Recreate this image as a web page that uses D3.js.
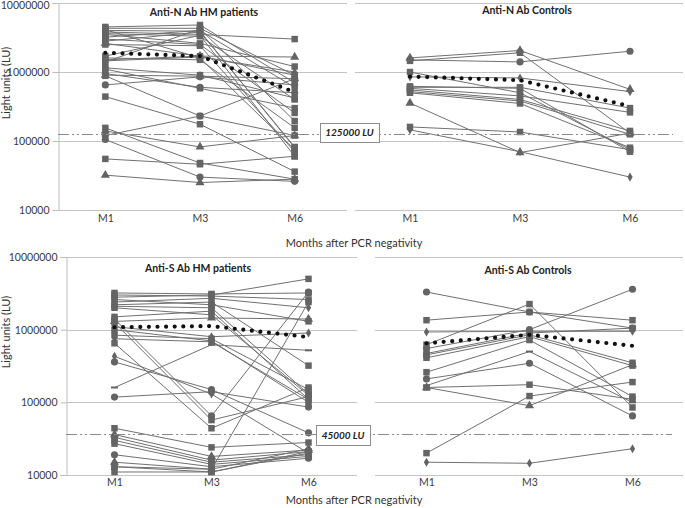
<!DOCTYPE html>
<html lang="en">
<head>
<meta charset="UTF-8">
<title>Anti-N and Anti-S antibody kinetics</title>
<script src="https://cdn.jsdelivr.net/npm/d3@7"></script>
<style>
  body { margin: 0; background: #fff; }
  svg { font-family: Lato, "Liberation Sans", sans-serif; }
  .grid line { stroke: #c4c4c4; stroke-width: 1; }
  .series { fill: none; stroke: #707070; stroke-width: 1; }
  .pt { fill: #646464; }
  .mean { fill: none; stroke: #111; stroke-width: 4.2; stroke-linecap: round; stroke-dasharray: 0 8.6; }
  .ref { stroke: #8a8a8a; stroke-width: 1; stroke-dasharray: 11 3 2 3 2 3; }
</style>
</head>
<body>
<svg id="chart" width="685" height="508"></svg>
<script>
const months = ["M1", "M3", "M6"];
const yTicks = [1e4, 1e5, 1e6, 1e7];

// Anti-N, HM patients (LU at M1, M3, M6)
const nHmSeries = [
  [4500000, 4800000, 700000], [4300000, 4300000, 900000], [4000000, 3900000, 80000],
  [3800000, 3500000, 3000000], [3500000, 2600000, 1200000], [3200000, 4000000, 600000],
  [3000000, 2500000, 255000], [2800000, 3800000, 82000], [2600000, 1700000, 1650000],
  [2500000, 2400000, 70000], [4100000, 1600000, 75000], [3600000, 3300000, 400000],
  [1700000, 3400000, 60000], [1500000, 1700000, 900000], [1400000, 4200000, 195000],
  [1600000, 1500000, 155000], [1150000, 900000, 420000], [900000, 870000, 800000],
  [950000, 600000, 500000], [880000, 230000, 120000], [650000, 850000, 650000],
  [440000, 175000, 36000], [155000, 48000, 28000], [120000, 230000, 800000],
  [105000, 30000, 26000], [55000, 46000, 60000], [32000, 25000, 28000],
  [140000, 82000, 120000], [1100000, 580000, 300000], [1450000, 1650000, 1000000]
];
const nHmMarkers = "ssssssssts" + "ssssssstcs" + "cssccsttsd";
const nHmMean = [1900000, 1700000, 510000];

// Anti-N, controls
const nCtlSeries = [
  [1600000, 2050000, 560000], [1500000, 1400000, 2000000], [1450000, 1900000, 130000],
  [1000000, 500000, 75000], [850000, 820000, 520000], [600000, 600000, 300000],
  [580000, 450000, 260000], [550000, 400000, 140000], [520000, 380000, 125000],
  [500000, 350000, 80000], [620000, 580000, 70000], [355000, 68000, 130000],
  [160000, 135000, 75000], [145000, 70000, 30000]
];
const nCtlMarkers = "tcssdsssssstsd";
const nCtlMean = [860000, 760000, 320000];

// Anti-S, HM patients
const sHmSeries = [
  [3200000, 3100000, 3200000], [3000000, 2900000, 2600000], [2800000, 3000000, 5000000],
  [2600000, 2200000, 1300000], [2400000, 2700000, 2000000], [2200000, 2400000, 320000],
  [2100000, 2000000, 130000], [1500000, 1800000, 110000], [1300000, 1450000, 1400000],
  [1400000, 65000, 3300000], [1250000, 57000, 120000], [1100000, 800000, 900000],
  [840000, 750000, 150000], [750000, 680000, 110000], [650000, 44000, 160000],
  [430000, 130000, 20000], [360000, 150000, 38000], [160000, 620000, 520000],
  [118000, 140000, 86000], [44000, 24000, 28000], [36000, 18000, 22000],
  [33000, 16000, 21000], [30000, 15000, 19000], [27000, 14000, 18000],
  [19000, 13000, 17000], [15000, 12000, 23000], [13000, 11000, 21000],
  [11000, 11000, 20000], [2000000, 1600000, 125000], [1000000, 700000, 100000],
  [13000, 12000, 2400000]
];
const sHmMarkers = "ssssdssstc" + "sdsdsdc-cs" + "tssscts" + "ssss";
const sHmMean = [1080000, 1120000, 790000];

// Anti-S, controls
const sCtlSeries = [
  [3300000, 1750000, 1050000], [1350000, 1750000, 1350000], [620000, 2250000, 85000],
  [930000, 950000, 950000], [470000, 900000, 1050000], [450000, 850000, 350000],
  [410000, 800000, 320000], [260000, 720000, 120000], [210000, 345000, 65000],
  [160000, 175000, 110000], [160000, 90000, 330000], [20000, 122000, 190000],
  [15000, 14500, 23000], [550000, 1000000, 3600000], [170000, 500000, 100000]
];
const sCtlMarkers = "cssdsssscstsdc-";
const sCtlMean = [650000, 850000, 600000];

const refN = 125000, refNLabel = "125000 LU";
const refS = 37000, refSLabel = "45000 LU";

const svg = d3.select("#chart");

const panels = [
  { series: nHmSeries, marks: nHmMarkers, mean: nHmMean, title: "Anti-N Ab HM patients",
    x0: 58, x1: 342, top: 3, bottom: 210, gridEnd: 347, axis: true, titleX: 204, titleY: 16 },
  { series: nCtlSeries, marks: nCtlMarkers, mean: nCtlMean, title: "Anti-N Ab Controls",
    x0: 355, x1: 685, top: 3, bottom: 210, gridEnd: 683, axis: false, titleX: 527, titleY: 14 },
  { series: sHmSeries, marks: sHmMarkers, mean: sHmMean, title: "Anti-S Ab HM patients",
    x0: 66, x1: 357, top: 257, bottom: 475, gridEnd: 357, axis: true, titleX: 198, titleY: 272 },
  { series: sCtlSeries, marks: sCtlMarkers, mean: sCtlMean, title: "Anti-S Ab Controls",
    x0: 375, x1: 684, top: 257, bottom: 475, gridEnd: 683, axis: false, titleX: 528, titleY: 274 }
];

const symbolOf = {
  s: d3.symbol().type(d3.symbolSquare).size(42),
  c: d3.symbol().type(d3.symbolCircle).size(40),
  t: d3.symbol().type(d3.symbolTriangle).size(36),
  d: d3.symbol().type(d3.symbolDiamond).size(24)
};

panels.forEach(p => {
  const x = d3.scalePoint().domain(months).range([p.x0, p.x1]).padding(0.5);
  const y = d3.scaleLog().domain([1e4, 1e7]).range([p.bottom, p.top]);
  p.x = x; p.y = y;

  const g = svg.append("g");

  // gridlines
  g.append("g").attr("class", "grid")
    .selectAll("line").data(yTicks).enter().append("line")
    .attr("x1", p.x0).attr("x2", p.gridEnd)
    .attr("y1", d => Math.round(y(d)) + 0.5).attr("y2", d => Math.round(y(d)) + 0.5);

  if (p.axis) {
    const ya = g.append("g")
      .attr("transform", `translate(${p.x0 + 0.5},0)`)
      .call(d3.axisLeft(y).tickValues(yTicks).tickFormat(d3.format("d")).tickSize(6).tickPadding(3));
    ya.select(".domain").attr("stroke", "#bdbdbd");
    ya.selectAll(".tick line").attr("stroke", "#bdbdbd");
    ya.selectAll("text").attr("font-size", 10.5).attr("fill", "#3a3a3a").attr("font-family", "Lato, sans-serif");
    // keep the top label inside the picture
    ya.selectAll(".tick text").filter(d => d === 1e7 && p.top < 10).attr("dy", "0.55em");
  }

  const xa = g.append("g")
    .attr("transform", `translate(0,${p.bottom})`)
    .call(d3.axisBottom(x).tickSize(0).tickPadding(p.top < 100 ? 5 : 4));
  xa.select(".domain").remove();
  xa.selectAll("text").attr("font-size", 10.5).attr("fill", "#3a3a3a").attr("font-family", "Lato, sans-serif");

  g.append("text")
    .attr("x", p.titleX).attr("y", p.titleY)
    .attr("text-anchor", "middle")
    .attr("font-size", 10.5).attr("font-weight", "bold").attr("fill", "#222")
    .text(p.title);

  const line = d3.line().x((d, i) => x(months[i])).y(d => y(d));

  p.series.forEach((s, k) => {
    const sg = g.append("g");
    sg.append("path").attr("class", "series").attr("d", line(s));
    const m = p.marks[k];
    s.forEach((v, i) => {
      if (m === "-") {
        sg.append("rect").attr("class", "pt")
          .attr("x", x(months[i]) - 3.5).attr("y", y(v) - 1)
          .attr("width", 7).attr("height", 2);
      } else {
        sg.append("path").attr("class", "pt")
          .attr("transform", `translate(${x(months[i])},${y(v)})`)
          .attr("d", symbolOf[m]());
      }
    });
  });

  g.append("path").attr("class", "mean").attr("d", line(p.mean));
});

// cut-off lines with labels
function refLine(value, label, pl, xEnd, box) {
  const yy = Math.round(pl.y(value)) + 0.5;
  svg.append("line").attr("class", "ref")
    .attr("x1", pl.x0).attr("x2", xEnd).attr("y1", yy).attr("y2", yy);
  svg.append("rect")
    .attr("x", box[0] + 0.5).attr("y", box[1] + 0.5)
    .attr("width", box[2]).attr("height", box[3])
    .attr("fill", "#fff").attr("stroke", "#8c8c8c");
  svg.append("text")
    .attr("x", box[0] + box[2] / 2).attr("y", box[1] + box[3] / 2 + 3.6)
    .attr("text-anchor", "middle")
    .attr("font-size", 10).attr("font-weight", "bold").attr("font-style", "italic")
    .attr("fill", "#222")
    .text(label);
}
refLine(refN, refNLabel, panels[0], 673, [320, 123, 59, 19]);
refLine(refS, refSLabel, panels[2], 672, [316, 425, 54, 20]);

// axis titles
[247, 504].forEach(yy => {
  svg.append("text")
    .attr("x", 354).attr("y", yy)
    .attr("text-anchor", "middle")
    .attr("font-size", 11).attr("fill", "#333")
    .text("Months after PCR negativity");
});
[83, 332].forEach(cy => {
  svg.append("text")
    .attr("transform", `translate(10,${cy}) rotate(-90)`)
    .attr("text-anchor", "middle")
    .attr("font-size", 11).attr("fill", "#333")
    .text("Light units (LU)");
});
</script>
</body>
</html>
